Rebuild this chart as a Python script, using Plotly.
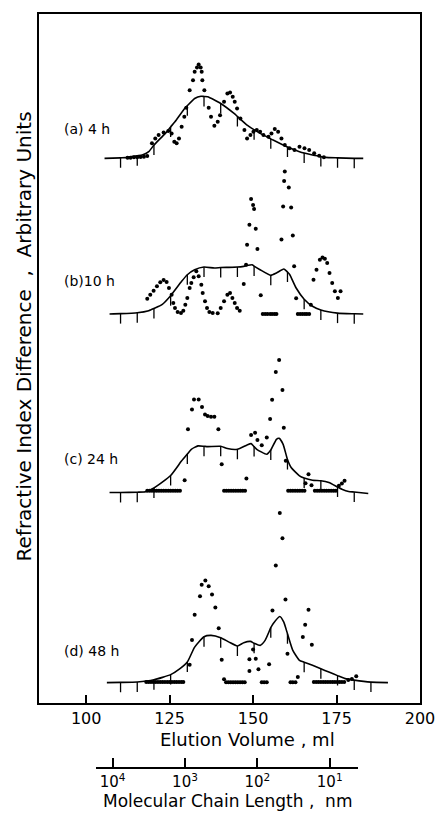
import plotly.graph_objects as go

# ---------------- data (elution volume in ml, signal in arbitrary units) ----------------
labels = ["(a) 4 h", "(b)10 h", "(c) 24 h", "(d) 48 h"]

a_curve_ml = [105.5, 110.3, 111.9, 115.3, 116.8, 118.75, 120.3, 123.7, 125.3, 126.6, 129.5, 130.3, 132.5, 134.4, 135.3,
              136.4, 140.3, 144.3, 145.3, 148.2, 150.3, 152.1, 155.3, 156.0, 160.3, 163.9, 165.3, 167.8, 170.3, 171.7,
              175.3, 180.3, 183.0]
a_curve_h = [0, 0.5, 0.7, 2.5, 3.3, 6.7, 13.3, 25, 31.5, 36.7, 50, 52.7, 60, 62.3, 62,
             61.7, 55, 45, 42, 33.3, 28.7, 25, 19.5, 18.3, 11.3, 6.7, 5.3, 3.3, 1.8, 1,
             0.5, 0, 0]
a_dot_ml = [112.4, 113.3, 114.3, 115.3, 116.3, 117.3, 118.3,
            119.7, 120.7, 121.7, 123.2, 124.6, 125.6, 126.4, 127.1, 127.8, 128.6, 129.4, 130.0,
            131.0, 132.0, 132.5, 133.2, 133.7, 134.3, 134.6, 134.8, 135.4,
            136.7, 137.4, 138.4, 139.4, 140.1, 141.3, 142.3, 143.1, 143.9, 144.5, 145.2, 146.2, 147.4, 148.2,
            149.2, 150.1, 151.1, 152.1, 153.1, 154.6, 155.5, 156.5, 157.5, 158.5, 159.5,
            160.9, 162.4, 163.9, 165.4, 166.8, 168.3, 169.8, 171.2]
a_dot_h = [0.7, 0.7, 1.0, 1.0, 1.3, 1.7, 2.3,
           15, 20, 23.3, 26, 27.3, 25, 16.7, 15, 20, 31.7, 41.7, 50.7,
           68.3, 78.3, 86.7, 91, 94, 91, 86.7, 78.3, 68.3,
           50.7, 41.7, 32.7, 36.7, 43.3, 56.7, 65, 66, 61.7, 56.7, 50, 40, 28.3, 20,
           23.3, 26.7, 28.3, 26.7, 23.3, 21.7, 25, 29.3, 26.7, 20, 13.3,
           10, 8.3, 11.7, 10, 8.3, 5, 2.7, 1]

b_curve_ml = [107.0, 110.3, 115.3, 118.75, 120.3, 122.7, 125.3, 128.6, 130.3, 132.5, 135.3, 138.4, 140.3, 142.8, 145.3,
              147.2, 149.7, 150.3, 152.1, 155.3, 157.0, 159.2, 160.3, 161.0, 162.9, 165.3, 167.8, 170.3, 175.3, 180.3,
              183.0]
b_curve_h = [0, 0.3, 1.2, 3.3, 5.5, 9.3, 18.3, 32.7, 39.3, 44.3, 47, 46, 46.5, 46.7, 47,
             47.7, 49.3, 48, 44.3, 38.7, 41, 45, 42, 39.3, 26, 14.8, 7.7, 4, 0.8, 0.2,
             0]
b_dot_ml = [118.3, 119.2, 120.2, 121.2, 122.2, 123.2, 124.1, 124.8, 125.6, 126.1, 126.6, 127.4, 128.4,
            129.1, 129.7, 130.3, 131.0, 131.5, 132.2, 133.0, 133.7, 134.5, 134.9, 135.6, 136.2, 136.9, 137.9, 139.4,
            140.3, 141.3, 142.3, 143.1, 143.8, 144.5, 145.2, 146.0,
            147.2, 147.9, 148.2, 148.9, 149.4, 150.0, 150.3, 150.8, 151.3, 152.3,
            152.9, 153.6, 154.3, 155.1, 155.7, 156.4, 157.0,
            158.5, 159.0, 159.3, 159.5, 160.7, 161.4, 161.9, 162.3, 162.9,
            163.4, 164.1, 164.8, 165.5, 166.1, 166.8,
            167.3, 168.1, 169.0, 170.0, 170.8, 171.5, 172.2, 172.9, 173.7, 174.5, 175.4, 176.2]
b_dot_h = [15.3, 19.3, 23.3, 27.7, 31.7, 34, 32, 26, 19.3, 11, 6, 2, 1,
           3.3, 9.3, 16, 26, 31, 36.7, 42.7, 37.7, 29.3, 21, 12.7, 6, 2, 1, 0.7,
           6, 12.7, 19.3, 21, 16, 11, 6, 3.3,
           30, 49.3, 69.3, 89.3, 115.3, 109.3, 105.3, 85.3, 65, 18.7,
           0, 0, 0, 0, 0, 0, 0,
           74.7, 107.7, 133.3, 142.7, 126.7, 106.7, 78.7, 47.7, 15.7,
           0, 0, 0, 0, 0, 0,
           9.3, 34.3, 44.3, 54.3, 56.7, 55.3, 51, 41, 31, 22.7, 16, 22.7]

c_curve_ml = [107.0, 110.3, 115.3, 117.8, 120.3, 125.3, 128.6, 130.3, 131.5, 133.5, 135.3, 136.4, 140.3, 142.3, 145.3,
              148.2, 149.4, 150.3, 151.1, 154.1, 155.3, 157.0, 157.8, 159.0, 160.3, 161.4, 163.9, 165.3, 167.8, 170.3,
              172.7, 175.3, 176.6, 178.6, 180.3, 184.5]
c_curve_h = [0, 0, 0.3, 0.7, 4.5, 17, 31.7, 38.5, 43.3, 46.7, 46.3, 46, 46.3, 44, 43.3,
             47.7, 49, 46, 43.3, 38.3, 42.5, 53.3, 54.3, 48.3, 33, 25, 16.7, 14.5, 12.3, 11.8,
             10, 5.5, 3.3, 1, 0.5, -1]
c_dot_ml = [118.3, 119.0, 119.7, 120.4, 121.1, 121.8, 122.5, 123.2, 123.9, 124.6, 125.3, 126.0, 126.7, 127.4, 128.1,
            129.5, 130.5, 131.7, 132.3, 133.7, 134.7, 135.6, 136.4, 137.4, 138.4, 139.6, 140.6,
            141.3, 142.0, 142.7, 143.4, 144.1, 144.8, 145.5, 146.2, 146.9, 147.6,
            148.0, 149.4, 150.6, 151.3, 152.6, 154.1, 155.1, 155.7, 156.8, 157.8, 158.8, 159.2, 159.8,
            160.5, 161.2, 161.9, 162.6, 163.3, 164.0, 164.7, 165.4,
            165.7, 166.6, 167.5,
            168.5, 169.2, 169.9, 170.6, 171.3, 172.0, 172.7, 173.4, 174.1, 174.8,
            175.7, 176.6, 177.4]
c_dot_h = [1.7, 1.7, 1.7, 1.7, 1.7, 1.7, 1.7, 1.7, 1.7, 1.7, 1.7, 1.7, 1.7, 1.7, 1.7,
           12.3, 63.3, 83.3, 93.3, 93.3, 85.7, 78.3, 76.7, 76, 76, 63.3, 28.3,
           1.7, 1.7, 1.7, 1.7, 1.7, 1.7, 1.7, 1.7, 1.7, 1.7,
           14, 57.7, 60, 52.7, 47.3, 55, 73.7, 93, 120.7, 132.7, 102.7, 65, 31.7,
           1.7, 1.7, 1.7, 1.7, 1.7, 1.7, 1.7, 1.7,
           9.3, 18.3, 7.3,
           1.7, 1.7, 1.7, 1.7, 1.7, 1.7, 1.7, 1.7, 1.7, 1.7,
           6.7, 9, 11.7]

d_curve_ml = [106.2, 110.3, 115.3, 120.3, 125.3, 128.1, 130.3, 132.5, 135.3, 137.4, 140.3, 142.8, 145.3, 147.2, 149.2,
              150.3, 152.1, 153.6, 155.3, 156.0, 158.0, 159.2, 160.3, 161.9, 163.9, 165.3, 167.8, 170.3, 172.7, 175.3,
              177.6, 180.3, 185.3, 190.4]
d_curve_h = [0, 0.2, 0.6, 2.8, 8, 14, 20.6, 35.6, 46, 47.3, 45, 40.6, 36.7, 40, 41.3,
             39.5, 37.3, 42.3, 55, 59, 66.3, 60.6, 49, 32.3, 22.3, 20.5, 17.3, 13.8, 10.6, 7,
             4, 2.5, 0.5, 0]
d_dot_ml = [118.0, 118.7, 119.4, 120.1, 120.8, 121.5, 122.2, 122.9, 123.6, 124.3, 125.0, 125.7, 126.4, 127.1, 127.8, 128.5, 129.1,
            131.0, 131.7, 132.5, 134.1, 134.6, 135.7, 136.7, 137.7, 138.7, 139.7, 140.6, 141.3,
            141.9, 142.6, 143.3, 144.0, 144.7, 145.4, 146.1, 146.8, 147.5,
            148.9, 148.9, 150.0, 150.8, 151.6, 154.8,
            152.6, 153.3, 154.1,
            155.8, 156.8, 158.0, 158.8, 159.7, 160.3,
            161.2, 161.9, 162.7,
            163.4, 164.9, 165.6, 166.6, 167.6,
            168.2, 168.9, 169.6, 170.3, 171.0, 171.7, 172.4, 173.1, 173.8, 174.5, 175.2, 175.9, 176.6, 177.3,
            178.5, 179.6, 180.9]
d_dot_h = [0.5, 0.5, 0.5, 0.5, 0.5, 0.5, 0.5, 0.5, 0.5, 0.5, 0.5, 0.5, 0.5, 0.5, 0.5, 0.5, 0.5,
           18, 42.6, 68, 86.6, 98, 102.3, 96.6, 88.3, 75.3, 54.6, 23, 3.3,
           0.3, 0.3, 0.3, 0.3, 0.3, 0.3, 0.3, 0.3, 0.3,
           11.6, 23.3, 33.3, 24, 13.3, 18.3,
           0.3, 0.3, 0.3,
           72.3, 117.3, 170, 144.6, 83.3, 29,
           0.3, 0.3, 0.3,
           5.6, 45.6, 58, 73, 38,
           0.5, 0.5, 0.5, 0.5, 0.5, 0.5, 0.5, 0.5, 0.5, 0.5, 0.5, 0.5, 0.5, 0.5,
           2.5, 3.5, 6.3]

# 5 ml count marks on each recorder trace
abc_ticks = [110.3, 115.3, 120.3, 125.3, 130.3, 135.3, 140.3, 145.3, 150.3, 155.3, 160.3, 165.3, 170.3, 175.3, 180.3]
d_ticks = [110.3, 115.3, 120.3, 125.3, 130.3, 135.3, 140.3, 145.3, 150.3, 155.3, 160.3, 165.3, 170.3, 175.3, 180.3, 185.3]

x_ticks = [100, 125, 150, 175, 200]
chain_ticks = [1e4, 1e3, 1e2, 1e1]
chain_ticktext = ["10<sup>4</sup>", "10<sup>3</sup>", "10<sup>2</sup>", "10<sup>1</sup>"]

# ---------------- layout constants ----------------
W, H = 447, 813
ML, MR, MT, MB = 39, 20, 12, 13
offsets = [546.3, 390.3, 211.3, 20.7]      # vertical stacking of the four traces
label_y = [576, 423, 245, 52]
mark_len = 10
FONT = "DejaVu Sans"

panels = [
    (a_curve_ml, a_curve_h, a_dot_ml, a_dot_h, abc_ticks),
    (b_curve_ml, b_curve_h, b_dot_ml, b_dot_h, abc_ticks),
    (c_curve_ml, c_curve_h, c_dot_ml, c_dot_h, abc_ticks),
    (d_curve_ml, d_curve_h, d_dot_ml, d_dot_h, d_ticks),
]

fig = go.Figure()
for (cml, ch, dml, dh, ticks), off in zip(panels, offsets):
    fig.add_trace(go.Scatter(x=cml, y=[v + off for v in ch], mode="lines",
                             line=dict(color="black", width=1.6, shape="spline", smoothing=0.5),
                             hoverinfo="skip"))
    tx, ty = [], []
    for t in ticks:
        top = ch[cml.index(t)] + off
        tx += [t, t, None]
        ty += [top, top - mark_len, None]
    fig.add_trace(go.Scatter(x=tx, y=ty, mode="lines", line=dict(color="black", width=1.3),
                             hoverinfo="skip"))
    fig.add_trace(go.Scatter(x=dml, y=[v + off for v in dh], mode="markers",
                             marker=dict(color="black", size=4), hoverinfo="skip"))

# invisible trace to host the molecular chain length axis
fig.add_trace(go.Scatter(x=[1e3], y=[0.5], xaxis="x2", yaxis="y2", mode="markers",
                         marker=dict(opacity=0), hoverinfo="skip"))

plot_h = H - MT - MB
main_bottom = (H - MB - 703) / plot_h
chain_axis = (H - MB - 767) / plot_h

fig.update_layout(
    width=W, height=H, margin=dict(l=ML, r=MR, t=MT, b=MB),
    paper_bgcolor="white", plot_bgcolor="white", showlegend=False,
    font=dict(family=FONT, color="black"),
    xaxis=dict(range=[85.87, 200], domain=[0, 1], anchor="y", showline=True, mirror=True,
               linecolor="black", linewidth=1.6, ticks="inside", ticklen=8, tickwidth=1.5,
               tickcolor="black", tickvals=x_ticks, ticktext=[str(v) for v in x_ticks],
               tickfont=dict(size=16, family=FONT), showgrid=False, zeroline=False),
    yaxis=dict(range=[0, 691], domain=[main_bottom, 1], showline=True, mirror=True,
               linecolor="black", linewidth=1.6, showticklabels=False, ticks="",
               showgrid=False, zeroline=False),
    xaxis2=dict(type="log", range=[4.231, 0.607], domain=[58 / 388, 325 / 388], anchor="y2",
                showline=True, linecolor="black", linewidth=1.6, ticks="inside", ticklen=9,
                tickwidth=1.5, tickcolor="black", tickvals=chain_ticks, ticktext=chain_ticktext,
                tickfont=dict(size=15, family=FONT), showgrid=False, zeroline=False),
    yaxis2=dict(domain=[chain_axis, chain_axis + 0.02], range=[0, 1], visible=False),
)

annos = []
for lab, ly in zip(labels, label_y):
    annos.append(dict(text=lab, x=(62 - ML) / 388, y=ly, xref="paper", yref="y",
                      xanchor="left", yanchor="middle", showarrow=False,
                      font=dict(size=14, family=FONT)))
annos.append(dict(text="Elution Volume , ml", x=(251 - ML) / 388, y=(H - MB - 739) / plot_h,
                  xref="paper", yref="paper", xanchor="center", yanchor="middle",
                  showarrow=False, font=dict(size=18, family=FONT)))
annos.append(dict(text="Molecular Chain Length ,  nm", x=(231 - ML) / 388, y=(H - MB - 801) / plot_h,
                  xref="paper", yref="paper", xanchor="center", yanchor="middle",
                  showarrow=False, font=dict(size=17, family=FONT)))
annos.append(dict(text="Refractive Index Difference  ,  Arbitrary Units", x=(24 - ML) / 388,
                  y=(H - MB - 335) / plot_h, xref="paper", yref="paper", xanchor="center",
                  yanchor="middle", textangle=-90, showarrow=False, font=dict(size=20, family=FONT)))
fig.update_layout(annotations=annos)

fig.write_html("out.html")
